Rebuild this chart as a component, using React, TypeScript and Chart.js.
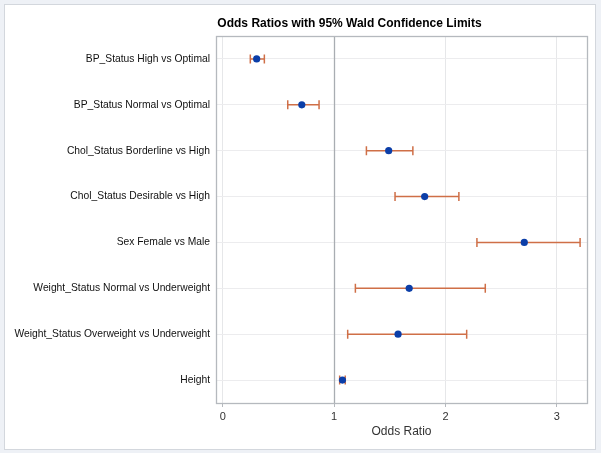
import React, { useEffect, useRef } from "react";
import { Chart, registerables } from "chart.js";

Chart.register(...registerables);

const categories = [
  "BP_Status High vs Optimal",
  "BP_Status Normal vs Optimal",
  "Chol_Status Borderline vs High",
  "Chol_Status Desirable vs High",
  "Sex Female vs Male",
  "Weight_Status Normal vs Underweight",
  "Weight_Status Overweight vs Underweight",
  "Height",
];
const oddsRatio = [0.305, 0.71, 1.49, 1.813, 2.707, 1.674, 1.574, 1.075];
const lowerCL = [0.248, 0.584, 1.29, 1.547, 2.282, 1.191, 1.122, 1.05];
const upperCL = [0.374, 0.865, 1.707, 2.12, 3.208, 2.357, 2.19, 1.1];
const xTicks = [0, 1, 2, 3];
const referenceValue = 1;
const titleText = "Odds Ratios with 95% Wald Confidence Limits";
const xAxisTitle = "Odds Ratio";

const FONT = "'Liberation Sans', Arial, sans-serif";

const framePlugin = {
  id: "frameAndErrors",
  beforeDatasetsDraw(chart: any) {
    const { ctx, chartArea, scales } = chart;
    const x = scales.x;
    const y = scales.y;
    ctx.save();
    // reference line
    const rx = Math.round(x.getPixelForValue(referenceValue)) + 0.5;
    ctx.strokeStyle = "#a9adb2";
    ctx.lineWidth = 1.3;
    ctx.beginPath();
    ctx.moveTo(rx, chartArea.top);
    ctx.lineTo(rx, chartArea.bottom);
    ctx.stroke();
    // frame
    ctx.strokeStyle = "#b5b9be";
    ctx.lineWidth = 1.3;
    ctx.strokeRect(
      Math.round(chartArea.left) + 0.5,
      Math.round(chartArea.top) + 0.5,
      Math.round(chartArea.right - chartArea.left),
      Math.round(chartArea.bottom - chartArea.top)
    );
    // error bars
    ctx.strokeStyle = "#cf6f47";
    ctx.lineWidth = 1.5;
    categories.forEach((c, i) => {
      const py = y.getPixelForValue(i);
      const x1 = x.getPixelForValue(lowerCL[i]);
      const x2 = x.getPixelForValue(upperCL[i]);
      ctx.beginPath();
      ctx.moveTo(x1, py);
      ctx.lineTo(x2, py);
      ctx.moveTo(x1, py - 4.5);
      ctx.lineTo(x1, py + 4.5);
      ctx.moveTo(x2, py - 4.5);
      ctx.lineTo(x2, py + 4.5);
      ctx.stroke();
    });
    ctx.restore();
  },
  afterDraw(chart: any) {
    const { ctx } = chart;
    ctx.save();
    ctx.fillStyle = "#000";
    ctx.font = `bold 12px ${FONT}`;
    ctx.textAlign = "center";
    ctx.textBaseline = "middle";
    ctx.fillText(titleText, chart.width / 2 + 49, 23.5);
    ctx.restore();
  },
};

export default function App() {
  const ref = useRef<HTMLCanvasElement | null>(null);
  useEffect(() => {
    if (!ref.current) return;
    const chart = new Chart(ref.current, {
      type: "scatter",
      data: {
        labels: categories,
        datasets: [
          {
            data: categories.map((c, i) => ({ x: oddsRatio[i], y: c })) as any,
            backgroundColor: "#0b3ea8",
            borderColor: "#0b3ea8",
            pointRadius: 3.6,
            pointHoverRadius: 3.6,
            borderWidth: 0,
          },
        ],
      },
      options: {
        animation: false,
        responsive: false,
        devicePixelRatio: 1,
        layout: { padding: { top: 36, right: 14, bottom: 0, left: 0 } },
        plugins: {
          legend: { display: false },
          title: { display: false },
          tooltip: { enabled: false },
        },
        scales: {
          x: {
            type: "linear",
            min: -0.06,
            max: 3.27,
            afterBuildTicks: (scale: any) => {
              scale.ticks = xTicks.map((v) => ({ value: v }));
            },
            afterFit: (scale: any) => {
              scale.height = 50;
            },
            grid: {
              color: "#e6e7e9",
              tickColor: "#b5b9be",
              tickLength: 4,
              lineWidth: 1,
            },
            border: { display: false },
            ticks: {
              color: "#333",
              font: { family: FONT, size: 11 },
              padding: 3,
            },
            title: {
              display: true,
              text: xAxisTitle,
              color: "#333",
              font: { family: FONT, size: 12 },
              padding: { top: 4, bottom: 14 },
            },
          },
          y: {
            type: "category",
            labels: categories,
            offset: true,
            afterFit: (scale: any) => {
              scale.width = 216;
            },
            grid: {
              offset: false,
              color: "#ececee",
              drawTicks: false,
            },
            border: { display: false },
            ticks: {
              color: "#111",
              font: { family: FONT, size: 10.3 },
              padding: 6,
            },
          },
        },
      },
      plugins: [framePlugin],
    });
    return () => chart.destroy();
  }, []);

  return (
    <div
      style={{
        position: "absolute",
        left: 0,
        top: 0,
        width: 601,
        height: 453,
        background: "#eef1f6",
      }}
    >
      <div
        style={{
          position: "absolute",
          left: 4,
          top: 4,
          width: 590,
          height: 444,
          background: "#fff",
          border: "1px solid #d3d7dd",
        }}
      />
      <canvas
        ref={ref}
        width={601}
        height={453}
        style={{ position: "absolute", left: 0, top: 0, width: 601, height: 453 }}
      />
    </div>
  );
}
